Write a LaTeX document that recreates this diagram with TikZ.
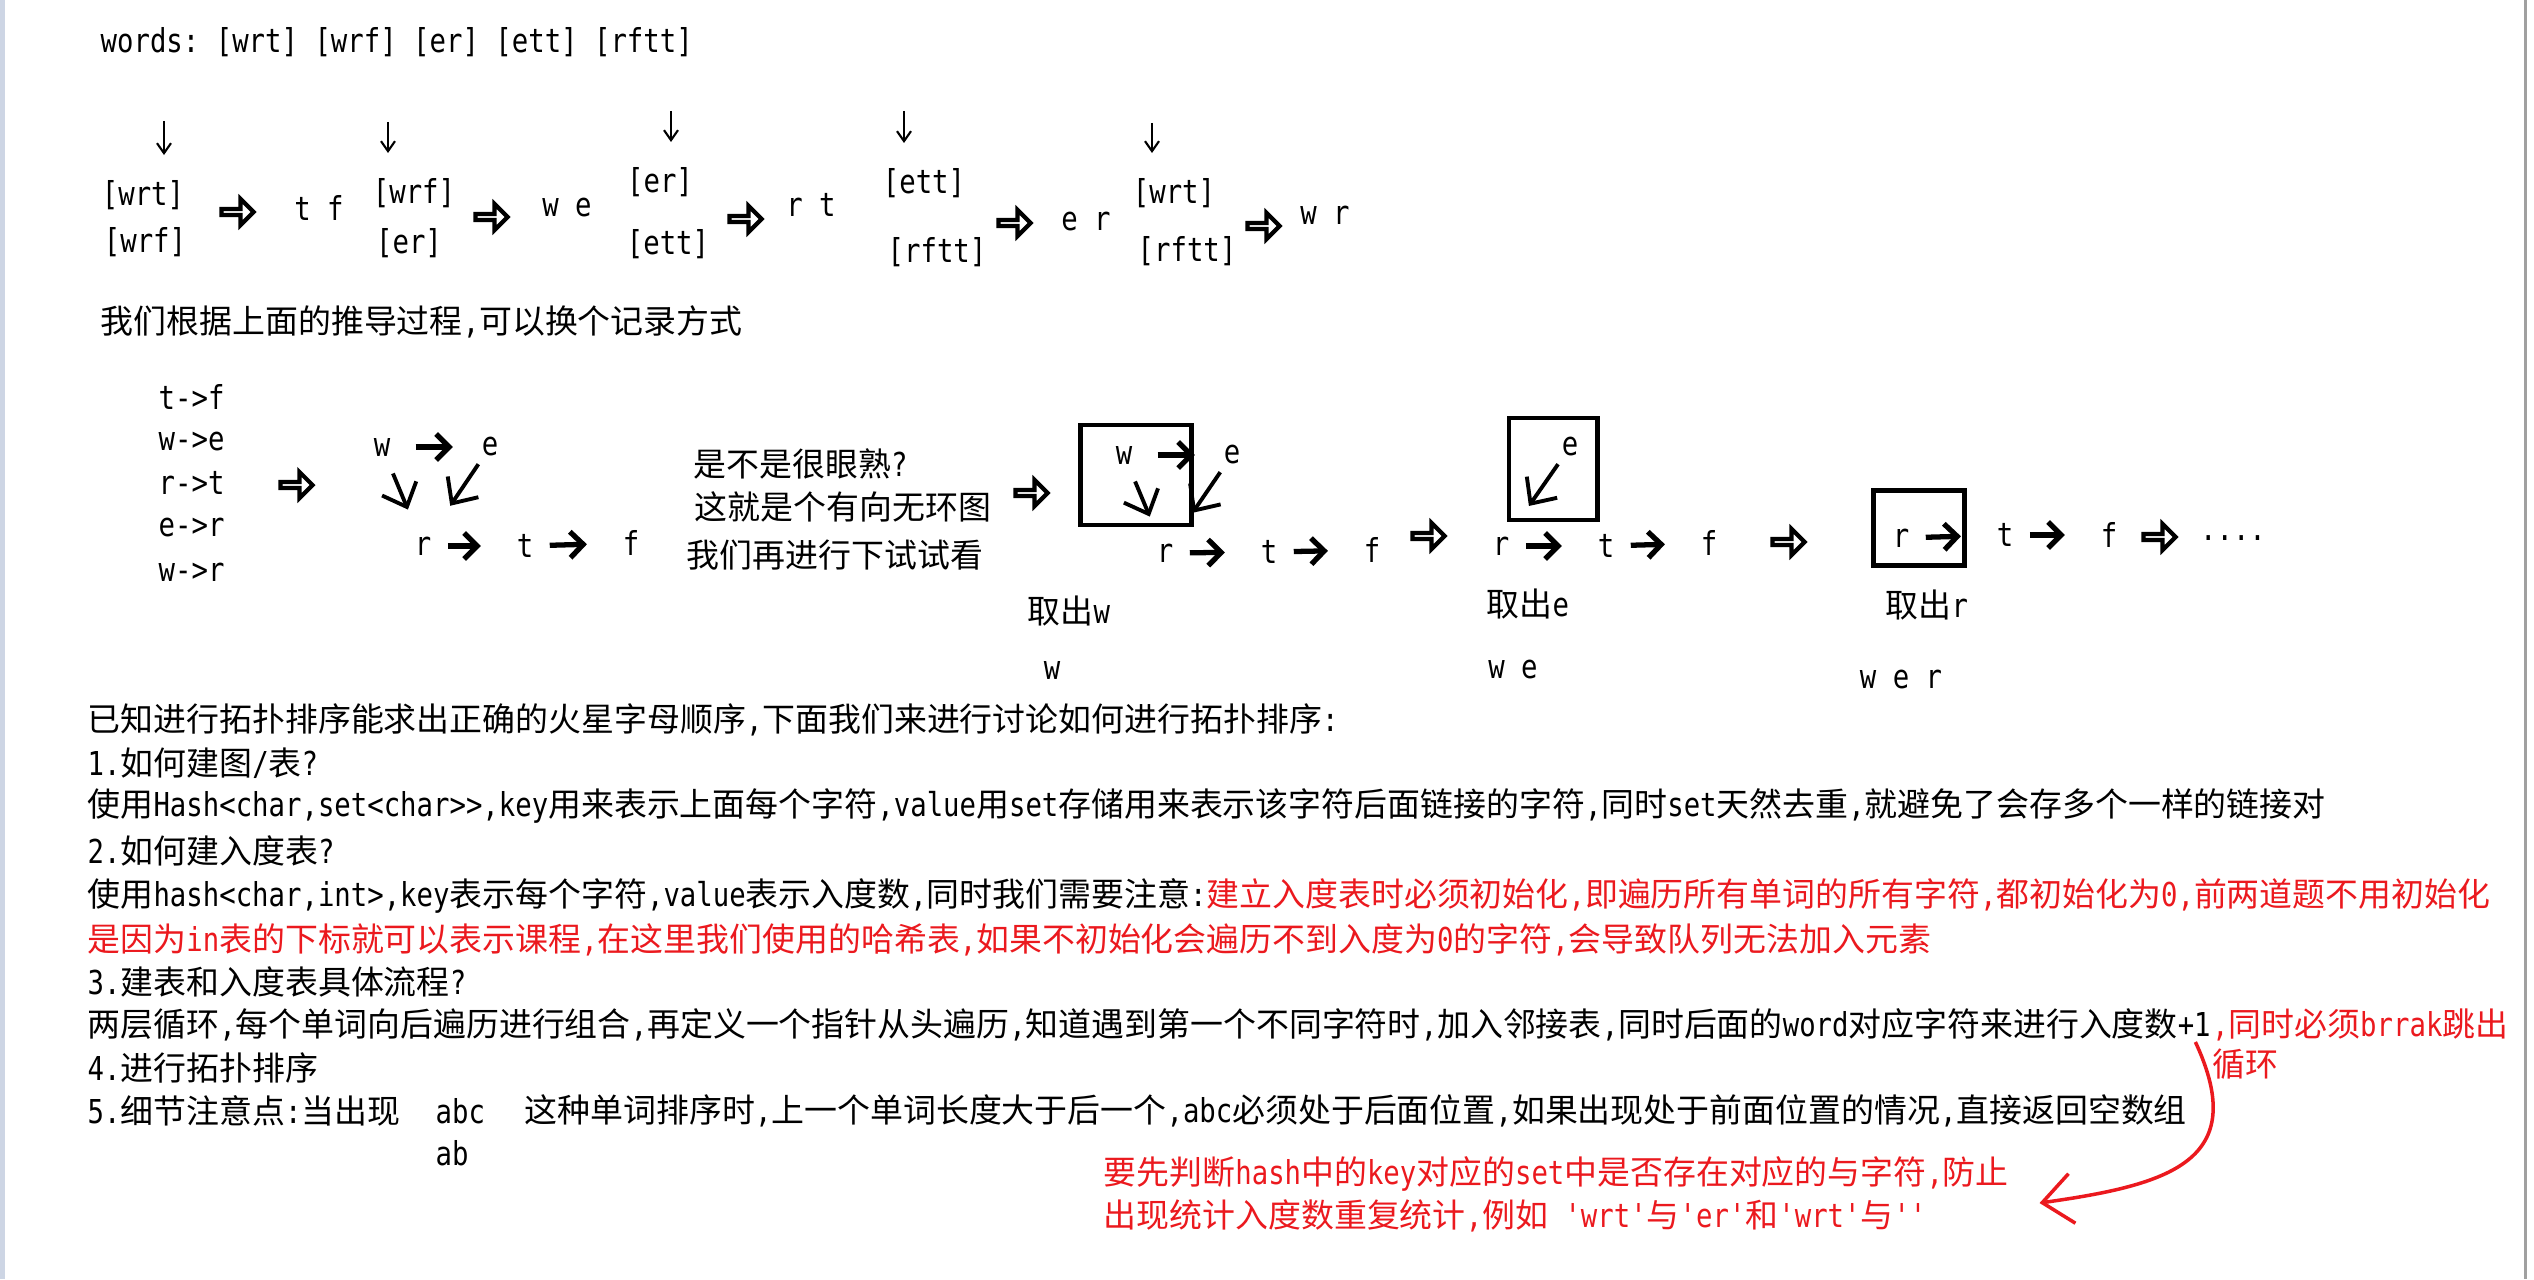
\documentclass[tikz,border=0pt]{standalone}
\usepackage{fontspec}
\setmonofont{DejaVu Sans Mono}[FakeStretch=0.83]
\newfontfamily\cjkfont{Noto Sans CJK SC}
\usepackage{tikz}
\usetikzlibrary{arrows.meta}
\usetikzlibrary{shapes.arrows}
\usetikzlibrary{positioning}

% hanzi in Noto, everything else in the mono font
\XeTeXinterchartokenstate=1
\newXeTeXintercharclass\hanzi
\newcount\hz
\hz="4E00
\loop \XeTeXcharclass\hz=\hanzi \ifnum\hz<"9FFF \advance\hz by 1 \repeat
\XeTeXinterchartoks 0 \hanzi = {\cjkfont}
\XeTeXinterchartoks 4095 \hanzi = {\cjkfont}
\XeTeXinterchartoks \hanzi 0 = {\ttfamily}
\XeTeXinterchartoks \hanzi 4095 = {\ttfamily}

\definecolor{notered}{RGB}{235,25,30}
\definecolor{sidebar}{RGB}{205,213,228}
\definecolor{rimgray}{RGB}{160,160,160}

\tikzstyle{lbl}=[inner sep=2pt, font=\ttfamily\fontsize{9.36pt}{11pt}\selectfont]
\tikzstyle{txt}=[lbl, inner sep=0pt, anchor=west]
\tikzstyle{note}=[txt, text=notered]
\tikzstyle{hollow}=[single arrow, draw=black, line width=1.2pt, inner sep=0pt, minimum height=3.2mm, minimum width=2.6mm, single arrow head extend=0.7mm]
\tikzstyle{frame}=[draw=black, line width=1.4pt, inner sep=0pt]
\tikzstyle{fat}=[line width=1.5pt, -{Straight Barb[length=1.3mm, width=2.6mm]}, shorten <=2.5pt, shorten >=8pt]
\tikzstyle{hand}=[line width=1.1pt, -{Straight Barb[length=2mm, width=3.7mm]}, shorten >=8pt]
\tikzstyle{down}=[line width=0.6pt, -{Straight Barb[length=1mm, width=1.4mm]}, shorten >=5pt]
\tikzstyle{link}=[draw=notered, line width=1pt, -{Straight Barb[length=3mm, width=5mm]}]

\begin{document}
\begin{tikzpicture}[x=0.01cm, y=-0.01cm]
  \useasboundingbox (0,0) rectangle (2534,1279);
  \fill[sidebar] (0,0) rectangle (5,1279);
  \fill[rimgray] (2524,0) rectangle (2527,1279);

  % the words and how they pair up
  \node[txt] at (100,42) (words) {words: [wrt] [wrf] [er] [ett] [rftt]};
  \node[lbl] at (143,195) (top1) {[wrt]};
  \node[lbl] at (145,242) (bot1) {[wrf]};
  \node[hollow] at (236,212) (go1) {};
  \node[lbl] at (319,208) (res1) {t f};
  \node[lbl] at (414,193) (top2) {[wrf]};
  \node[lbl] at (409,243) (bot2) {[er]};
  \node[hollow] at (490,217) (go2) {};
  \node[lbl] at (567,208) (res2) {w e};
  \node[lbl] at (660,182) (top3) {[er]};
  \node[lbl] at (668,244) (bot3) {[ett]};
  \node[hollow] at (744,219) (go3) {};
  \node[lbl] at (811,205) (res3) {r t};
  \node[lbl] at (924,183) (top4) {[ett]};
  \node[lbl] at (937,252) (bot4) {[rftt]};
  \node[hollow] at (1013,223) (go4) {};
  \node[lbl] at (1086,222) (res4) {e r};
  \node[lbl] at (1174,193) (top5) {[wrt]};
  \node[lbl] at (1187,251) (bot5) {[rftt]};
  \node[hollow] at (1262,226) (go5) {};
  \node[lbl] at (1325,215) (res5) {w r};
  \coordinate (d1) at (164,121);
  \coordinate (d2) at (388,122);
  \coordinate (d3) at (671,111);
  \coordinate (d4) at (904,111);
  \coordinate (d5) at (1152,123);
  \draw[down] (d1) -- (d1 |- top1.north);
  \draw[down] (d2) -- (d2 |- top2.north);
  \draw[down] (d3) -- (d3 |- top3.north);
  \draw[down] (d4) -- (d4 |- top4.north);
  \draw[down] (d5) -- (d5 |- top5.north);

  \node[txt] at (100,322) (again) {我们根据上面的推导过程,可以换个记录方式};

  % edges and the graph
  \node[txt] at (158,397) (e1) {t->f};
  \node[txt] at (158,442) (e2) {w->e};
  \node[txt] at (158,483) (e3) {r->t};
  \node[txt] at (158,528) (e4) {e->r};
  \node[txt] at (158,572) (e5) {w->r};
  \node[hollow] at (295,485) (go6) {};
  \node[lbl] at (382,447) (gw) {w};
  \node[lbl] at (490,447) (ge) {e};
  \node[lbl] at (423,546) (gr) {r};
  \node[lbl] at (525,546) (gt) {t};
  \node[lbl] at (631,543) (gf) {f};
  \draw[fat, shorten <=5pt, shorten >=6pt] (gw) -- (ge);
  \draw[hand, shorten <=3pt, shorten >=6pt] (gw) -- (gr);
  \draw[hand] (ge) -- (gr);
  \draw[fat] (gr) -- (gt);
  \draw[fat] (gt) -- (gf);
  \node[txt] at (693,464) (ask) {是不是很眼熟?};
  \node[txt] at (694,507) (dag) {这就是个有向无环图};
  \node[txt] at (686,555) (try) {我们再进行下试试看};

  % step 1: take w
  \node[hollow] at (1030,493) (go7) {};
  \node[frame, minimum width=1.11cm, minimum height=1.00cm] at (1136,475) (box1) {};
  \node[lbl] at (1124,455) (s1w) {w};
  \node[lbl] at (1232,455) (s1e) {e};
  \node[lbl] at (1165,553) (s1r) {r};
  \node[lbl] at (1269,552) (s1t) {t};
  \node[lbl] at (1372,550) (s1f) {f};
  \draw[fat, shorten <=5pt, shorten >=6pt] (s1w) -- (s1e);
  \draw[hand, shorten <=3pt, shorten >=6pt] (s1w) -- (s1r);
  \draw[hand] (s1e) -- (s1r);
  \draw[fat] (s1r) -- (s1t);
  \draw[fat] (s1t) -- (s1f);
  \node[hollow] at (1427,536) (go8) {};
  \node[lbl] at (1069,611) (take1) {取出w};
  \node[lbl] at (1052,670) (out1) {w};

  % step 2: take e
  \node[frame, minimum width=0.88cm, minimum height=1.02cm] at (1553,469) (box2) {};
  \node[lbl] at (1570,447) (s2e) {e};
  \node[lbl] at (1501,546) (s2r) {r};
  \node[lbl] at (1606,546) (s2t) {t};
  \node[lbl] at (1709,543) (s2f) {f};
  \draw[hand] (s2e) -- (s2r);
  \draw[fat] (s2r) -- (s2t);
  \draw[fat] (s2t) -- (s2f);
  \node[hollow] at (1787,542) (go9) {};
  \node[lbl] at (1528,604) (take2) {取出e};
  \node[lbl] at (1513,670) (out2) {w e};

  % step 3: take r
  \node[frame, minimum width=0.91cm, minimum height=0.75cm] at (1919,528) (box3) {};
  \node[lbl] at (1901,538) (s3r) {r};
  \node[lbl] at (2005,535) (s3t) {t};
  \node[lbl] at (2109,535) (s3f) {f};
  \draw[fat] (s3r) -- (s3t);
  \draw[fat] (s3t) -- (s3f);
  \node[hollow] at (2158,537) (go10) {};
  \node[lbl] at (2233,538) (more) {....};
  \node[lbl] at (1927,605) (take3) {取出r};
  \node[lbl] at (1901,680) (out3) {w e r};

  % the notes below
  \node[txt] at (87,720) (l1) {已知进行拓扑排序能求出正确的火星字母顺序,下面我们来进行讨论如何进行拓扑排序:};
  \node[txt] at (87,763) (l2) {1.如何建图/表?};
  \node[txt] at (87,806) (l3) {使用Hash<char,set<char>>,key用来表示上面每个字符,value用set存储用来表示该字符后面链接的字符,同时set天然去重,就避免了会存多个一样的链接对};
  \node[txt] at (87,851) (l4) {2.如何建入度表?};
  \node[txt] at (87,896) (l5) {使用hash<char,int>,key表示每个字符,value表示入度数,同时我们需要注意:\textcolor{notered}{建立入度表时必须初始化,即遍历所有单词的所有字符,都初始化为0,前两道题不用初始化}};
  \node[note] at (87,940) (l6) {是因为in表的下标就可以表示课程,在这里我们使用的哈希表,如果不初始化会遍历不到入度为0的字符,会导致队列无法加入元素};
  \node[txt] at (87,982) (l7) {3.建表和入度表具体流程?};
  \node[txt] at (87,1025) (l8) {两层循环,每个单词向后遍历进行组合,再定义一个指针从头遍历,知道遇到第一个不同字符时,加入邻接表,同时后面的word对应字符来进行入度数+1};
  \node[note, right=0pt of l8] (brk) {,同时必须brrak跳出};
  \node[note, below=1.7pt of brk.south west, anchor=north west] (loop) {循环};
  \node[txt] at (87,1068) (l9) {4.进行拓扑排序};
  \node[txt] at (87,1111) (l10) {5.细节注意点:当出现};
  \node[txt] at (435,1111) (abc) {abc};
  \node[txt] at (524,1111) (l11) {这种单词排序时,上一个单词长度大于后一个,abc必须处于后面位置,如果出现处于前面位置的情况,直接返回空数组};
  \node[txt] at (435,1153) (ab) {ab};
  \node[note] at (1103,1174) (n1) {要先判断hash中的key对应的set中是否存在对应的与字符,防止};
  \node[note] at (1103,1216) (n2) {出现统计入度数重复统计,例如 'wrt'与'er'和'wrt'与''};
  \coordinate (plus) at ([xshift=-0.16cm]l8.south east);
  \coordinate (tip) at ([xshift=0.3cm,yshift=-0.29cm]n1.east);
  \draw[link] (plus) to[out=-65, in=8, looseness=1.5] (tip);
\end{tikzpicture}
\end{document}
